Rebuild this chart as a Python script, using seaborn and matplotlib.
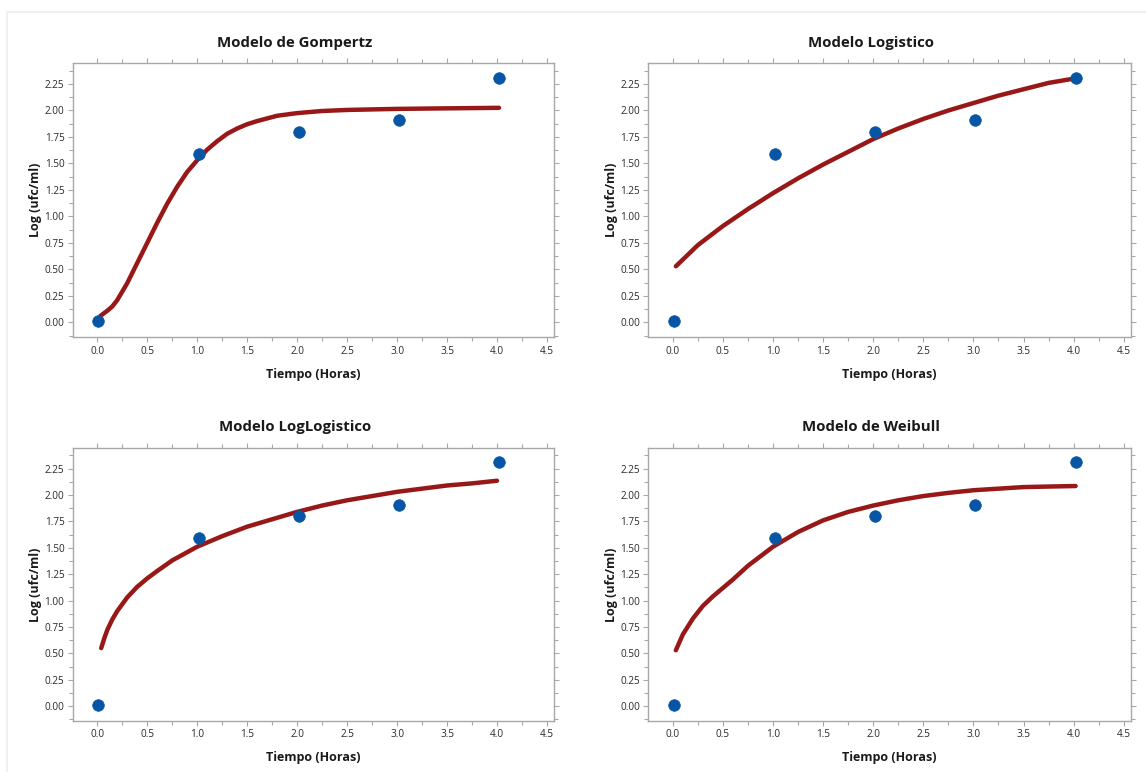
import matplotlib
matplotlib.use("Agg")
import matplotlib.pyplot as plt
from matplotlib.patches import Rectangle
from matplotlib.ticker import MultipleLocator
import seaborn as sns
import pandas as pd

# observed data (same in all four panels)
tiempo_obs = [0.01, 1.02, 2.02, 3.02, 4.02]
log_obs = [0.01, 1.59, 1.80, 1.91, 2.31]

# fitted curves
gompertz_x = [0.03, 0.1, 0.15, 0.2, 0.3, 0.4, 0.5, 0.6, 0.7, 0.8, 0.9, 1.0, 1.1, 1.2, 1.3,
              1.4, 1.5, 1.6, 1.8, 2.0, 2.25, 2.5, 3.0, 3.5, 4.02]
gompertz_y = [0.06, 0.11, 0.15, 0.21, 0.37, 0.56, 0.75, 0.94, 1.12, 1.28, 1.42, 1.53, 1.63, 1.71, 1.78,
              1.83, 1.87, 1.90, 1.95, 1.975, 1.995, 2.005, 2.015, 2.02, 2.025]

logistico_x = [0.03, 0.25, 0.5, 0.75, 1.0, 1.25, 1.5, 1.75, 2.0, 2.25, 2.5, 2.75, 3.0,
               3.25, 3.5, 3.75, 4.0]
logistico_y = [0.53, 0.73, 0.91, 1.07, 1.22, 1.36, 1.49, 1.61, 1.73, 1.83, 1.92, 2.00, 2.07,
               2.14, 2.20, 2.26, 2.30]

loglogistico_x = [0.04, 0.07, 0.1, 0.15, 0.2, 0.3, 0.4, 0.5, 0.6, 0.75, 1.0, 1.25, 1.5, 1.75, 2.0, 2.25,
                  2.5, 2.75, 3.0, 3.25, 3.5, 3.75, 4.0]
loglogistico_y = [0.55, 0.64, 0.72, 0.82, 0.90, 1.03, 1.13, 1.21, 1.28, 1.38, 1.51, 1.61, 1.70, 1.77, 1.84, 1.90,
                  1.95, 1.99, 2.03, 2.06, 2.09, 2.11, 2.135]

weibull_x = [0.03, 0.1, 0.2, 0.3, 0.4, 0.5, 0.6, 0.75, 1.0, 1.25, 1.5, 1.75, 2.0, 2.25,
             2.5, 2.75, 3.0, 3.25, 3.5, 3.75, 4.02]
weibull_y = [0.53, 0.68, 0.83, 0.95, 1.04, 1.12, 1.20, 1.33, 1.51, 1.65, 1.76, 1.84, 1.90, 1.95,
             1.99, 2.02, 2.045, 2.06, 2.075, 2.08, 2.085]

titles = ["Modelo de Gompertz", "Modelo Logistico", "Modelo LogLogistico", "Modelo de Weibull"]
curves = [(gompertz_x, gompertz_y), (logistico_x, logistico_y),
          (loglogistico_x, loglogistico_y), (weibull_x, weibull_y)]

sns.set_style("white")
plt.rcParams['font.family'] = ['Open Sans', 'DejaVu Sans']

W, H = 1146, 772
fig = plt.figure(figsize=(W / 100, H / 100), dpi=100)

# faint outer frame of the exported panel
fig.patches.append(Rectangle((7 / W, -0.01), 1.02, 1 - 12 / H + 0.01, transform=fig.transFigure,
                             facecolor='none', edgecolor='#F0F0F0', lw=1.5))

# axes boxes in pixels: left, top, right, bottom
boxes = [(72.7, 63.3, 554.0, 337.3), (648.3, 63.3, 1130.7, 337.3),
         (72.7, 448.0, 554.0, 721.0), (648.3, 448.0, 1130.7, 721.0)]

obs = pd.DataFrame({'t': tiempo_obs, 'y': log_obs})
line_col = '#981818'
dot_col = '#0756A5'
frame_col = '#A8A8A8'

for (l, t, r, b), title, (cx, cy) in zip(boxes, titles, curves):
    ax = fig.add_axes([l / W, 1 - b / H, (r - l) / W, (b - t) / H])
    wpx, hpx = r - l, b - t
    fit = pd.DataFrame({'t': cx, 'y': cy})
    sns.lineplot(data=fit, x='t', y='y', ax=ax, color=line_col, lw=3.2, zorder=2)
    sns.scatterplot(data=obs, x='t', y='y', ax=ax, color=dot_col, s=70,
                    edgecolor=dot_col, linewidth=0.5, zorder=3)

    ax.set_xlim(-0.245, 4.57)
    ax.set_ylim(-0.14, 2.445)
    ax.xaxis.set_major_locator(MultipleLocator(0.5))
    ax.xaxis.set_minor_locator(MultipleLocator(0.25))
    ax.yaxis.set_major_locator(MultipleLocator(0.25))
    ax.yaxis.set_minor_locator(MultipleLocator(0.125))
    ax.xaxis.set_major_formatter(matplotlib.ticker.FormatStrFormatter('%.1f'))
    ax.yaxis.set_major_formatter(matplotlib.ticker.FormatStrFormatter('%.2f'))
    ax.tick_params(which='both', direction='out', color=frame_col, width=0.8,
                   top=True, right=True, bottom=True, left=True,
                   labelsize=7.2, labelcolor='#2A2A2A', pad=2.5)
    ax.tick_params(which='major', length=3.5)
    ax.tick_params(which='minor', length=3)
    for sp in ax.spines.values():
        sp.set_color(frame_col)
        sp.set_linewidth(1.0)

    ax.set_xlabel('Tiempo (Horas)', fontsize=9, fontweight='bold', color='#1A1A1A')
    ax.set_ylabel('Log (ufc/ml)', fontsize=9, fontweight='bold', color='#1A1A1A')
    ax.xaxis.set_label_coords(0.5, -37 / hpx)
    ax.yaxis.set_label_coords(-36.7 / wpx, 0.5)
    ax.xaxis.label.set_va('center')
    ax.yaxis.label.set_va('center')
    ax.text(0.462, 1 + 20.6 / hpx, title, transform=ax.transAxes, ha='center', va='center',
            fontsize=10.8, fontweight='bold', color='#1A1A1A')

plt.savefig('out.png', dpi=100)
plt.close()
